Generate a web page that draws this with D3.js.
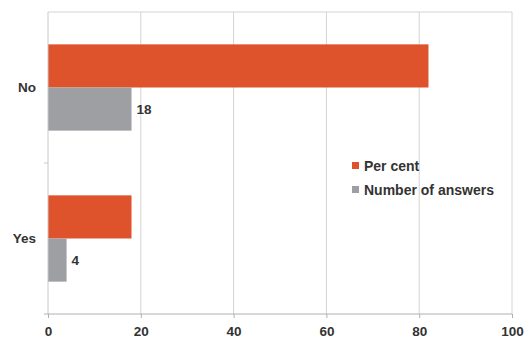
<!DOCTYPE html>
<html>
<head>
<meta charset="utf-8">
<script src="https://cdn.jsdelivr.net/npm/d3@7"></script>
<style>
  body { margin: 0; background: #fff; }
  text { font-family: "Liberation Sans Narrow", "Liberation Sans", Arial, sans-serif; font-weight: bold; fill: #333; }
</style>
</head>
<body>
<div id="chart"></div>
<script>
const categories = ["No", "Yes"];
const seriesNames = ["Per cent", "Number of answers"];
const perCent = [82, 18];
const numberOfAnswers = [18, 4];
const xTicks = [0, 20, 40, 60, 80, 100];
const colors = ["#de532c", "#9d9fa2"];

const width = 525, height = 349;
const margin = { t: 12, l: 48, r: 13, b: 35 };
const fontSize = 13.5;

const data = categories.map((c, i) => ({ label: c, values: [perCent[i], numberOfAnswers[i]] }));

const svg = d3.select("#chart").append("svg")
  .attr("width", width)
  .attr("height", height);

const x = d3.scaleLinear()
  .domain([0, 100])
  .range([margin.l, width - margin.r]);

const y = d3.scaleBand()
  .domain(categories)
  .range([margin.t, height - margin.b]);

const inner = d3.scaleBand()
  .domain(seriesNames)
  .range([0, y.bandwidth()])
  .paddingOuter(0.75)
  .paddingInner(0);

// grid
svg.append("g")
  .selectAll("line")
  .data(xTicks.slice(1))
  .enter().append("line")
  .attr("x1", d => x(d)).attr("x2", d => x(d))
  .attr("y1", margin.t).attr("y2", height - margin.b)
  .attr("stroke", "#d4d4d4");

svg.append("line")
  .attr("x1", x(0)).attr("x2", x(100))
  .attr("y1", margin.t).attr("y2", margin.t)
  .attr("stroke", "#d4d4d4");

// bars
const groups = svg.append("g")
  .selectAll("g")
  .data(data)
  .enter().append("g")
  .attr("transform", d => "translate(0," + y(d.label) + ")");

groups.selectAll("rect")
  .data(d => d.values.map((v, i) => ({ key: seriesNames[i], value: v, i: i })))
  .enter().append("rect")
  .attr("x", x(0))
  .attr("y", d => inner(d.key))
  .attr("width", d => x(d.value) - x(0))
  .attr("height", inner.bandwidth())
  .attr("fill", d => colors[d.i]);

// labels on the number bars
groups.append("text")
  .attr("x", d => x(d.values[1]) + 5)
  .attr("y", inner("Number of answers") + inner.bandwidth() / 2)
  .attr("dy", "0.35em")
  .attr("font-size", fontSize)
  .text(d => d.values[1]);

// y axis
const yAxis = svg.append("g")
  .attr("transform", "translate(" + x(0) + ",0)");
yAxis.append("line")
  .attr("y1", margin.t).attr("y2", height - margin.b)
  .attr("stroke", "#c8c8c8");
yAxis.append("line")
  .attr("x1", -4).attr("x2", 0)
  .attr("y1", y("Yes")).attr("y2", y("Yes"))
  .attr("stroke", "#c8c8c8");
yAxis.selectAll("text.cat")
  .data(categories)
  .enter().append("text")
  .attr("class", "cat")
  .attr("x", -12)
  .attr("y", d => y(d) + y.bandwidth() / 2)
  .attr("dy", "0.35em")
  .attr("text-anchor", "end")
  .attr("font-size", fontSize)
  .text(d => d);

// x axis
const xAxis = svg.append("g")
  .attr("transform", "translate(0," + (height - margin.b) + ")")
  .call(d3.axisBottom(x).tickValues(xTicks).tickSize(4).tickPadding(8).tickSizeOuter(0));
xAxis.select(".domain").attr("stroke", "#b0b0b0").attr("d", "M" + (x(0) - 4) + ",0H" + x(100));
xAxis.selectAll(".tick line").attr("stroke", "#b0b0b0");
xAxis.selectAll(".tick text")
  .attr("font-size", fontSize)
  .attr("font-family", "\"Liberation Sans Narrow\", \"Liberation Sans\", Arial, sans-serif")
  .attr("font-weight", "bold")
  .attr("fill", "#333");

// legend
const legend = svg.append("g")
  .attr("transform", "translate(352,166)");
const li = legend.selectAll("g")
  .data(seriesNames)
  .enter().append("g")
  .attr("transform", (d, i) => "translate(0," + i * 24 + ")");
li.append("rect")
  .attr("x", 0).attr("y", -4)
  .attr("width", 7).attr("height", 7)
  .attr("fill", (d, i) => colors[i]);
li.append("text")
  .attr("x", 12)
  .attr("dy", "0.35em")
  .attr("font-size", 14)
  .text(d => d);
</script>
</body>
</html>
